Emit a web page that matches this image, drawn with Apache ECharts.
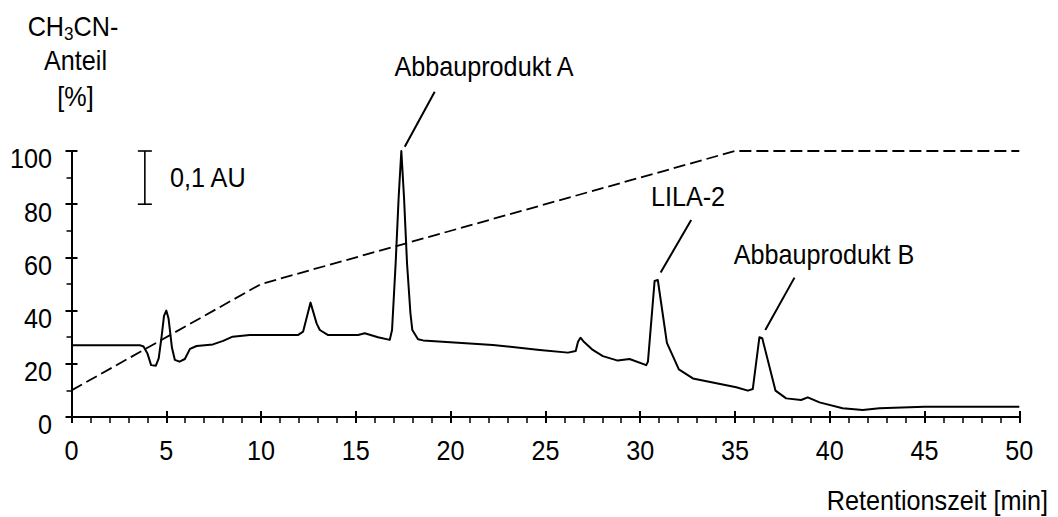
<!DOCTYPE html>
<html>
<head>
<meta charset="utf-8">
<script src="https://cdn.jsdelivr.net/npm/echarts@6/dist/echarts.min.js"></script>
<style>
html,body{margin:0;padding:0;background:#fff;}
#c{width:1058px;height:517px;}
</style>
</head>
<body>
<div id="c"></div>
<script>
// ---- data ----
const xTicks = [0, 5, 10, 15, 20, 25, 30, 35, 40, 45, 50];
const yTicks = [0, 20, 40, 60, 80, 100];
const chromX = [0, 3.6, 3.8, 4.0, 4.2, 4.45, 4.6, 4.75, 4.88, 5.0, 5.12, 5.3, 5.45, 5.7, 5.98, 6.25, 6.6, 7.46, 8.0, 8.5, 9.4,
  11.94, 12.22, 12.61, 12.93, 13.1, 13.54, 15.12, 15.47, 16.17, 16.79, 16.91, 17.1, 17.26, 17.4, 17.54, 17.7, 17.88, 17.98, 18.28, 18.55,
  22.23, 24.7, 26.19, 26.6, 26.72, 26.85, 27.0, 27.5, 28.03, 28.82, 29.44, 30.32, 30.41, 30.76, 30.93, 31.41, 32.04, 32.78,
  35.07, 35.68, 35.94, 36.29, 36.44, 37.14, 37.7, 38.49, 38.84, 39.46, 40.68, 41.74, 42.62, 45.0, 50.0];
const chromY = [27, 27, 26.5, 24, 19.5, 19.3, 22, 30, 38, 40, 37, 26, 21.5, 20.8, 21.8, 25.6, 26.7, 27.3, 28.6, 30.2, 30.8,
  30.8, 32.1, 43.0, 35.2, 32.7, 30.8, 30.8, 31.5, 30.0, 29.0, 32.7, 57.8, 82.8, 100, 82.8, 57.8, 39, 32.7, 29.2, 28.8,
  27.1, 25.2, 24.2, 24.8, 28.3, 29.8, 28.5, 25.2, 22.9, 21.2, 21.8, 19.5, 20.8, 51.1, 51.5, 27.9, 17.9, 14.5,
  11.2, 9.9, 10.5, 30.0, 29.6, 9.9, 7.0, 6.4, 7.4, 5.5, 3.3, 2.6, 3.3, 3.9, 3.9];
const gradX = [0, 10, 35, 50];
const gradY = [10, 50, 100, 100];
const peakLabels = ['Abbauprodukt A', 'LILA-2', 'Abbauprodukt B'];
const peakLeaderFrom = [[17.58, 101.6], [31.08, 54.3], [36.6, 32.7]];
const peakLeaderTo = [[19.16, 122.3], [32.69, 74.1], [38.14, 52.4]];
const scaleBar = { x: 3.87, y0: 80, y1: 100, label: '0,1 AU' };
const xAxisTitle = 'Retentionszeit [min]';
const yAxisTitleLines = ['Anteil', '[%]'];

const FONT = "'Liberation Sans', Arial, sans-serif";
const FS = 28;
const SX = 0.9;

const chart = echarts.init(document.getElementById('c'), null, { renderer: 'svg' });

function zip(a, b) { return a.map((v, i) => [v, b[i]]); }

const baseX = {
  type: 'value', min: 0, max: 50, interval: 5, position: 'bottom',
  splitLine: { show: false }, axisLabel: { show: false }
};
const baseY = {
  type: 'value', min: 0, max: 100, interval: 20, position: 'left',
  splitLine: { show: false }, axisLabel: { show: false }
};

chart.setOption({
  animation: false,
  backgroundColor: '#fff',
  grid: { left: 71.5, right: 38.7, top: 151, bottom: 100, containLabel: false },
  xAxis: [
    Object.assign({}, baseX, {
      axisLine: { show: true, onZero: false, lineStyle: { color: '#000', width: 2 } },
      axisTick: { show: true, inside: false, length: 6, lineStyle: { color: '#000', width: 2 } },
      minorTick: { show: true, splitNumber: 5, length: 6, lineStyle: { color: '#000', width: 1.5 } }
    }),
    Object.assign({}, baseX, {
      axisLine: { show: false, onZero: false },
      axisTick: { show: true, inside: true, length: 6, lineStyle: { color: '#000', width: 2 } },
      minorTick: { show: false }
    })
  ],
  yAxis: [
    Object.assign({}, baseY, {
      axisLine: { show: true, onZero: false, lineStyle: { color: '#000', width: 2 } },
      axisTick: { show: true, inside: false, length: 6, lineStyle: { color: '#000', width: 2 } },
      minorTick: { show: true, splitNumber: 2, length: 5, lineStyle: { color: '#000', width: 1.5 } }
    }),
    Object.assign({}, baseY, {
      axisLine: { show: false, onZero: false },
      axisTick: { show: true, inside: true, length: 6, lineStyle: { color: '#000', width: 2 } },
      minorTick: { show: false }
    })
  ],
  series: [
    {
      name: 'Gradient', type: 'line', xAxisIndex: 0, yAxisIndex: 0,
      data: zip(gradX, gradY), showSymbol: false, symbol: 'none', clip: false,
      lineStyle: { color: '#000', width: 1.8, type: [12, 5] }
    },
    {
      name: 'Chromatogramm', type: 'line', xAxisIndex: 0, yAxisIndex: 0,
      data: zip(chromX, chromY), showSymbol: false, symbol: 'none', clip: false,
      lineStyle: { color: '#000', width: 2, join: 'round' }
    }
  ]
});

function px(p) { return chart.convertToPixel({ gridIndex: 0 }, p); }

const g = [];
function txt(t, x, y, align, extra) {
  const style = Object.assign({ text: t, fill: '#000', font: FS + 'px ' + FONT,
    textAlign: align || 'center', textVerticalAlign: 'middle' }, extra || {});
  g.push({ type: 'text', x: x, y: y, scaleX: SX, style: style });
}
// tick labels
yTicks.forEach(v => { const p = px([0, v]); txt(String(v), p[0] - 19.5, p[1] + 8, 'right'); });
xTicks.forEach(v => { const p = px([v, 0]); txt(String(v), p[0], p[1] + 34, 'center'); });
// leader lines and labels
const labelPos = [[484, 67], [688, 197], [824, 255]];
peakLabels.forEach((t, i) => {
  const a = px(peakLeaderFrom[i]), b = px(peakLeaderTo[i]);
  g.push({ type: 'line', shape: { x1: a[0], y1: a[1], x2: b[0], y2: b[1] }, style: { stroke: '#000', lineWidth: 2 } });
  txt(t, labelPos[i][0], labelPos[i][1], 'center');
});
// scale bar
const s0 = px([scaleBar.x, scaleBar.y0]), s1 = px([scaleBar.x, scaleBar.y1]);
g.push({ type: 'line', shape: { x1: s0[0], y1: s0[1], x2: s1[0], y2: s1[1] }, style: { stroke: '#000', lineWidth: 1.6 } });
g.push({ type: 'line', shape: { x1: s0[0] - 7, y1: s0[1], x2: s0[0] + 7, y2: s0[1] }, style: { stroke: '#000', lineWidth: 1.6 } });
g.push({ type: 'line', shape: { x1: s1[0] - 7, y1: s1[1], x2: s1[0] + 7, y2: s1[1] }, style: { stroke: '#000', lineWidth: 1.6 } });
txt(scaleBar.label, 170, 178, 'left');
// y axis title
g.push({ type: 'text', x: 73, y: 27, scaleX: SX,
  style: { text: '{a|CH}{s|3}{a|CN-}', textAlign: 'center', textVerticalAlign: 'middle',
    rich: { a: { fontSize: FS, fontFamily: FONT, fill: '#000', color: '#000' },
            s: { fontSize: 19, fontFamily: FONT, fill: '#000', color: '#000', padding: [14, 0, 0, 0] } } } });
txt(yAxisTitleLines[0], 75.5, 61, 'center');
txt(yAxisTitleLines[1], 75.5, 97, 'center');
// x axis title
txt(xAxisTitle, 1048, 501, 'right');

chart.setOption({ graphic: g });
</script>
</body>
</html>
